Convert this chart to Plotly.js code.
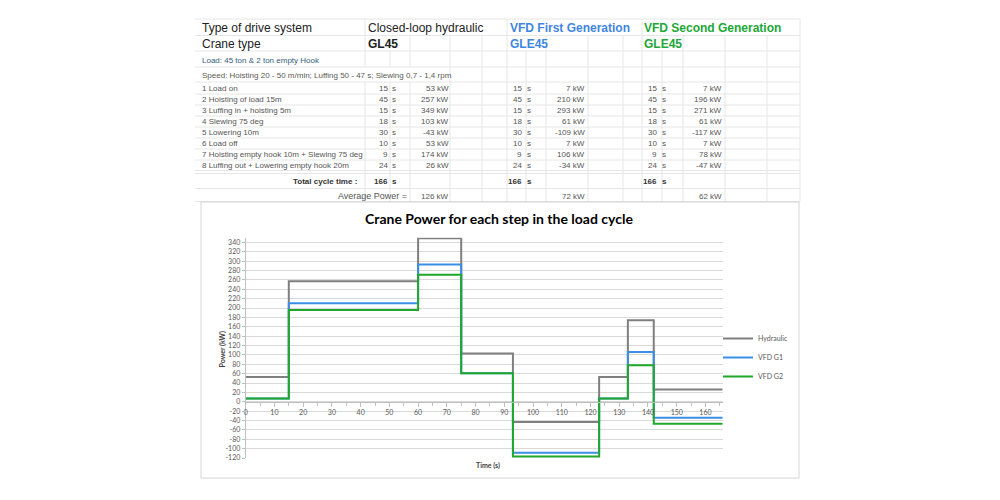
<!DOCTYPE html>
<html>
<head>
<meta charset="utf-8">
<script src="https://cdn.plot.ly/plotly-3.0.1.min.js"></script>
<style>html,body{margin:0;padding:0;background:#fff;}#chart{width:1000px;height:500px;}</style>
</head>
<body>
<div id="chart"></div>
<script>
// ---------- data ----------
const steps = ["1 Load on", "2 Hoisting of load 15m", "3 Luffing in + hoisting 5m", "4 Slewing 75 deg",
  "5 Lowering 10m", "6 Load off", "7 Hoisting empty hook 10m + Slewing 75 deg", "8 Luffing out + Lowering empty hook 20m"];
const durations = [15, 45, 15, 18, 30, 10, 9, 24];
const hydraulic = [53, 257, 349, 103, -43, 53, 174, 26];
const vfdG1 = [7, 210, 293, 61, -109, 7, 106, -34];
const vfdG2 = [7, 196, 271, 61, -117, 7, 78, -47];
const totalCycle = [166, 166, 166];
const avgPower = [126, 72, 62];
const seriesNames = ["Hydraulic", "VFD G1", "VFD G2"];
const yTicks = [-120,-100,-80,-60,-40,-20,0,20,40,60,80,100,120,140,160,180,200,220,240,260,280,300,320,340];
const xTicks = [0,10,20,30,40,50,60,70,80,90,100,110,120,130,140,150,160];

// ---------- helpers ----------
const W = 1000, H = 500;
const px = x => x / W;
const py = y => 1 - y / H;

// step start times from durations
const times = [0];
durations.forEach(d => times.push(times[times.length - 1] + d));
const stepY = arr => arr.concat([arr[arr.length - 1]]);

const colors = ["#7f7f7f", "#3a8ee6", "#1fa82a"];
const traces = [hydraulic, vfdG1, vfdG2].map((v, i) => ({
  type: "scatter", mode: "lines", x: times, y: stepY(v), name: seriesNames[i],
  line: {shape: "hv", color: colors[i], width: 2}, hoverinfo: "x+y"
}));

const ann = [];
const shapes = [];
const TF = "Liberation Sans, Arial, sans-serif";
function txt(text, x, y, opt) {
  opt = opt || {};
  ann.push({
    text: text, xref: "paper", yref: "paper", x: px(x), y: py(y),
    xanchor: opt.xa || "left", yanchor: "middle", showarrow: false, borderpad: 0,
    font: {family: opt.family || TF, size: opt.size || 8, color: opt.color || "#555", weight: opt.bold ? "bold" : "normal"},
    textangle: opt.angle || 0
  });
}

// ---------- spreadsheet grid ----------
const hLines = [19, 35.5, 51, 67, 82, 94, 105, 116, 127, 138, 149, 160, 170.5, 173.5, 188.5, 201.5];
hLines.forEach(y => shapes.push({type: "line", xref: "paper", yref: "paper", x0: px(195), x1: px(800), y0: py(y), y1: py(y),
  line: {color: "#e6e6e6", width: 1}, layer: "below"}));
const vLines = [365, 390, 410, 450, 482, 507, 526, 546, 588, 623, 642, 662, 683, 725, 767, 800];
const hiddenRow1 = [390, 410, 450, 482, 526, 546, 588, 623, 662, 683, 725, 767];
const hiddenRow2 = [390, 526, 662];
const hiddenSpeed = [365, 390, 410];
const rowBounds = [19, 35.5, 51, 67, 82, 201.5];
vLines.forEach(x => {
  for (let r = 0; r < rowBounds.length - 1; r++) {
    if (r === 0 && hiddenRow1.includes(x)) continue;
    if (r === 1 && hiddenRow2.includes(x)) continue;
    if (r === 3 && hiddenSpeed.includes(x)) continue;
    shapes.push({type: "line", xref: "paper", yref: "paper", x0: px(x), x1: px(x), y0: py(rowBounds[r]), y1: py(rowBounds[r + 1]),
      line: {color: "#e6e6e6", width: 1}, layer: "below"});
  }
});
// chart area box
shapes.push({type: "rect", xref: "paper", yref: "paper", x0: px(201), x1: px(799), y0: py(478), y1: py(202),
  line: {color: "#d4d4d4", width: 1}, fillcolor: "#ffffff", layer: "below"});

// ---------- spreadsheet text ----------
const blue = "#3f86de", green = "#21a838";
txt("Type of drive system", 201, 28, {size: 12, color: "#222"});
txt("Crane type", 201, 44, {size: 12, color: "#222"});
txt("Closed-loop hydraulic", 367, 28, {size: 12, color: "#222"});
txt("GL45", 367, 44, {size: 12, color: "#222", bold: true});
txt("VFD First Generation", 509, 28, {size: 12, color: blue, bold: true});
txt("GLE45", 509, 44, {size: 12, color: blue, bold: true});
txt("VFD Second Generation", 643, 28, {size: 12, color: green, bold: true});
txt("GLE45", 643, 44, {size: 12, color: green, bold: true});
txt("Load: 45 ton &amp; 2 ton empty Hook", 201, 60, {size: 8, color: "#35607a"});
txt("Speed: Hoisting 20 - 50 m/min; Luffing 50 - 47 s; Slewing 0,7 - 1,4 rpm", 201, 75, {size: 8, color: "#5a5a55"});

const rowY = [88.3, 99.3, 110.5, 121.5, 132.5, 143.3, 154.3, 165.3];
const durNumX = [388.5, 523, 658], durSX = [391, 526, 661];
const kwX = [450, 586, 723];
const series = [hydraulic, vfdG1, vfdG2];
steps.forEach((s, i) => {
  txt(s, 201, rowY[i], {size: 8});
  for (let k = 0; k < 3; k++) {
    txt(String(durations[i]), durNumX[k], rowY[i], {xa: "right"});
    txt("s", durSX[k], rowY[i]);
    txt(series[k][i] + " kW", kwX[k], rowY[i], {xa: "right"});
  }
});
txt("Total cycle time :", 358, 181.5, {xa: "right", bold: true, color: "#333"});
for (let k = 0; k < 3; k++) {
  txt(String(totalCycle[k]), durNumX[k], 181.5, {xa: "right", bold: true, color: "#333"});
  txt("s", durSX[k], 181.5, {bold: true, color: "#333"});
  txt(avgPower[k] + " kW", kwX[k], 196, {xa: "right"});
}
txt("Average Power =", 408, 196, {xa: "right", size: 9});

// ---------- chart axis titles ----------
const CF = "Lato, Open Sans, sans-serif";
txt("Power (kW)", 216, 350, {angle: -90, size: 7, bold: true, family: CF, color: "#404040"});
txt("Time (s)", 488, 465, {xa: "center", size: 7, bold: true, family: CF, color: "#404040"});

// ---------- layout ----------
const yDom = [py(458), py(237.7)];
const yRange = [-120, 350];
const zeroPos = yDom[0] + (yDom[1] - yDom[0]) * (0 - yRange[0]) / (yRange[1] - yRange[0]);

const layout = {
  width: W, height: H,
  margin: {l: 0, r: 0, t: 0, b: 0},
  paper_bgcolor: "#ffffff", plot_bgcolor: "rgba(0,0,0,0)",
  showlegend: true,
  title: {text: "Crane Power for each step in the load cycle", x: px(499), y: py(219), xref: "paper", yref: "paper",
    xanchor: "center", yanchor: "middle", font: {family: CF, size: 14, color: "#000", weight: "bold"}},
  xaxis: {
    domain: [px(245.7), px(722.7)], range: [0, 166], tickvals: xTicks, ticktext: xTicks.map(String),
    anchor: "free", position: zeroPos,
    showgrid: false, zeroline: false, showline: true, linecolor: "#bfbfbf", linewidth: 1,
    ticks: "outside", ticklen: 4, tickcolor: "#bfbfbf",
    minor: {dtick: 5, tick0: 0, ticks: "outside", ticklen: 3, tickcolor: "#bfbfbf"},
    tickfont: {family: CF, size: 7, color: "#595959"}
  },
  yaxis: {
    domain: yDom, range: yRange, tickvals: yTicks, ticktext: yTicks.map(String),
    showgrid: true, gridcolor: "#d9d9d9", gridwidth: 1, zeroline: false, showline: true, linecolor: "#bfbfbf",
    ticks: "outside", ticklen: 3, tickcolor: "#bfbfbf",
    tickfont: {family: CF, size: 7, color: "#595959"}
  },
  legend: {x: px(718), y: py(324), xanchor: "left", yanchor: "top", bgcolor: "rgba(0,0,0,0)",
    font: {family: CF, size: 7, color: "#595959"}, tracegroupgap: 0},
  shapes: shapes,
  annotations: ann
};

Plotly.newPlot("chart", traces, layout, {staticPlot: true, displayModeBar: false});
</script>
</body>
</html>
